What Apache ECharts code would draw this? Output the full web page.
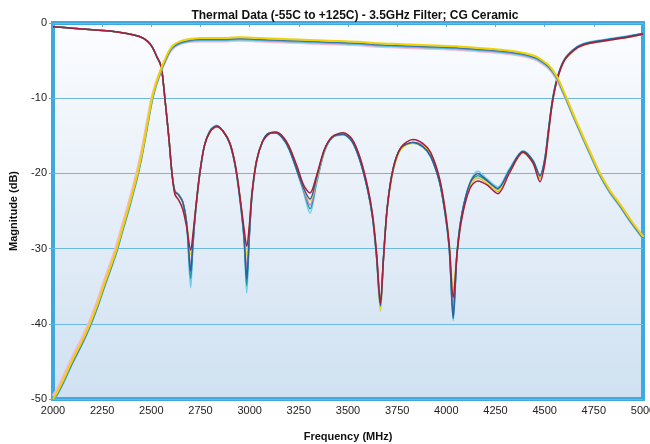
<!DOCTYPE html>
<html>
<head>
<meta charset="utf-8">
<script src="https://cdn.jsdelivr.net/npm/echarts@6/dist/echarts.min.js"></script>
<style>
html,body{margin:0;padding:0;background:#fff;}
#c{width:650px;height:444px;}
</style>
</head>
<body>
<div id="c"></div>
<script>
// ---------- DATA ----------
var titleText = 'Thermal Data (-55C to +125C) - 3.5GHz Filter; CG Ceramic';
var xTicks = [2000, 2250, 2500, 2750, 3000, 3250, 3500, 3750, 4000, 4250, 4500, 4750, 5000];
var yTicks = [0, -10, -20, -30, -40, -50];

// Transmission (S21) frequencies, MHz
var f21 = [2000, 2020, 2050, 2100, 2150, 2188, 2225, 2256, 2290, 2324,
           2350, 2378, 2405, 2429, 2450, 2468, 2485, 2502, 2520, 2540,
           2555, 2570, 2590, 2610, 2640, 2680, 2750, 2850, 2950, 3050,
           3150, 3250, 3350, 3450, 3550, 3650, 3750, 3850, 3950, 4050,
           4150, 4250, 4325, 4375, 4425, 4460, 4490, 4520, 4545, 4570,
           4590, 4613, 4650, 4695, 4740, 4781, 4830, 4883, 4940, 5000];

var s21Yellow = [-50.0, -49.2, -47.6, -44.8, -42.2, -40.0, -37.5, -35.1, -32.6, -30.0,
                 -27.6, -25.1, -22.5, -20.1, -17.6, -15.1, -12.6, -10.2, -8.4, -6.8,
                 -5.7, -4.8, -3.7, -3.0, -2.5, -2.2, -2.0, -2.0, -1.9, -2.0,
                 -2.1, -2.2, -2.3, -2.4, -2.5, -2.7, -2.8, -2.9, -3.0, -3.1,
                 -3.3, -3.5, -3.7, -3.9, -4.2, -4.5, -5.0, -5.6, -6.4, -7.5,
                 -8.7, -10.1, -12.4, -15.1, -17.7, -20.0, -22.2, -24.1, -26.3, -28.4];
var s21Blue   = [-50.0, -49.4, -47.9, -45.1, -42.5, -40.3, -37.8, -35.4, -32.9, -30.3,
                 -27.9, -25.4, -22.8, -20.4, -17.9, -15.4, -12.9, -10.5, -8.6, -7.0,
                 -5.9, -5.0, -3.9, -3.2, -2.7, -2.4, -2.2, -2.2, -2.1, -2.2,
                 -2.3, -2.4, -2.5, -2.6, -2.7, -2.9, -3.0, -3.1, -3.2, -3.3,
                 -3.5, -3.7, -3.9, -4.1, -4.4, -4.7, -5.2, -5.8, -6.6, -7.7,
                 -8.9, -10.3, -12.6, -15.3, -17.9, -20.2, -22.4, -24.3, -26.5, -28.6];
var s21Cyan   = [-50.0, -49.5, -48.0, -45.2, -42.6, -40.4, -37.9, -35.5, -33.0, -30.4,
                 -28.0, -25.5, -22.9, -20.5, -18.0, -15.5, -13.0, -10.6, -8.7, -7.1,
                 -6.0, -5.1, -4.0, -3.3, -2.8, -2.5, -2.3, -2.3, -2.2, -2.3,
                 -2.4, -2.5, -2.6, -2.7, -2.8, -3.0, -3.1, -3.2, -3.3, -3.4,
                 -3.6, -3.8, -4.0, -4.2, -4.5, -4.8, -5.3, -5.9, -6.7, -7.8,
                 -9.0, -10.4, -12.7, -15.4, -18.0, -20.3, -22.5, -24.4, -26.6, -28.7];
var s21Pink   = [-49.6, -48.8, -47.2, -44.4, -41.8, -39.6, -37.1, -34.7, -32.2, -29.6,
                 -27.2, -24.7, -22.1, -19.7, -17.2, -14.8, -12.4, -10.1, -8.4, -6.9,
                 -5.9, -5.1, -4.0, -3.3, -2.8, -2.5, -2.4, -2.4, -2.3, -2.4,
                 -2.5, -2.6, -2.7, -2.8, -2.9, -3.1, -3.2, -3.3, -3.4, -3.5,
                 -3.7, -3.9, -4.1, -4.3, -4.6, -4.9, -5.4, -6.0, -6.8, -7.8,
                 -9.0, -10.3, -12.6, -15.2, -17.8, -20.1, -22.3, -24.2, -26.4, -28.5];

// Reflection (S11) frequencies, MHz
var f11 = [2000, 2100, 2200, 2300, 2375, 2440, 2480, 2505, 2530, 2545,
           2555, 2570, 2590, 2605, 2620, 2640, 2660, 2680, 2700, 2712,
           2725, 2745, 2770, 2800, 2832, 2865, 2900, 2930, 2955, 2972,
           2985, 2998, 3012, 3035, 3065, 3095, 3130, 3165, 3200, 3240,
           3275, 3307, 3340, 3380, 3420, 3475, 3520, 3560, 3600, 3625,
           3645, 3665, 3680, 3700, 3730, 3770, 3830, 3880, 3920, 3965,
           3995, 4015, 4035, 4055, 4080, 4120, 4160, 4205, 4262, 4320,
           4390, 4440, 4476, 4500, 4520, 4540, 4565, 4600, 4650, 4700,
           4775, 4850, 4925, 5000];

var s11Red     = [-0.5, -0.7, -0.9, -1.1, -1.4, -1.8, -2.4, -3.2, -4.6, -5.4,
                  -6.6, -10.3, -15.5, -20.0, -22.8, -23.6, -24.8, -27.2, -30.2, -28.0,
                  -24.8, -20.2, -16.3, -14.4, -13.8, -14.4, -16.0, -19.3, -24.0, -27.5,
                  -29.7, -27.0, -22.5, -18.3, -15.8, -14.8, -14.5, -15.0, -16.4, -19.0,
                  -21.6, -22.6, -20.3, -16.8, -15.1, -14.6, -15.4, -17.8, -21.8, -25.5,
                  -30.5, -37.3, -31.5, -24.5, -19.4, -16.5, -15.5, -16.0, -17.2, -20.6,
                  -25.0, -29.5, -36.5, -30.5, -25.8, -22.0, -21.0, -21.5, -22.7, -20.0,
                  -17.2, -18.6, -21.1, -18.8, -14.5, -10.5, -7.4, -5.0, -3.6, -2.9,
                  -2.5, -2.2, -1.9, -1.5];
var s11Yellow  = [-0.5, -0.7, -0.9, -1.1, -1.4, -1.8, -2.4, -3.2, -4.6, -5.4,
                  -6.6, -10.3, -15.5, -20.0, -22.4, -22.9, -23.8, -26.5, -30.8, -28.3,
                  -24.8, -20.2, -16.3, -14.4, -13.8, -14.4, -16.0, -19.3, -24.0, -27.8,
                  -31.0, -27.3, -22.5, -18.3, -15.8, -14.8, -14.5, -15.0, -16.4, -19.2,
                  -22.0, -23.6, -20.8, -17.0, -15.2, -14.7, -15.5, -17.9, -21.9, -25.6,
                  -30.6, -38.2, -31.6, -24.6, -19.6, -16.8, -16.0, -16.3, -17.4, -20.7,
                  -25.0, -29.3, -35.5, -30.3, -25.6, -21.6, -20.5, -21.2, -22.3, -19.9,
                  -17.3, -18.5, -20.6, -18.6, -14.5, -10.5, -7.4, -5.0, -3.6, -2.9,
                  -2.5, -2.2, -1.9, -1.5];
var s11Magenta = [-0.5, -0.7, -0.9, -1.1, -1.4, -1.8, -2.4, -3.2, -4.6, -5.4,
                  -6.6, -10.3, -15.5, -20.0, -22.4, -22.9, -23.8, -26.6, -32.3, -28.8,
                  -24.9, -20.2, -16.3, -14.4, -13.8, -14.4, -16.0, -19.3, -24.1, -28.2,
                  -32.8, -27.8, -22.6, -18.3, -15.8, -14.8, -14.5, -15.0, -16.4, -19.3,
                  -22.2, -24.2, -21.0, -17.0, -15.2, -14.7, -15.5, -17.9, -21.9, -25.6,
                  -30.6, -37.0, -31.6, -24.6, -19.6, -16.7, -15.9, -16.2, -17.4, -20.8,
                  -25.2, -29.8, -37.2, -30.6, -25.6, -21.6, -20.6, -21.2, -22.4, -19.9,
                  -17.3, -18.5, -20.7, -18.6, -14.5, -10.5, -7.4, -5.0, -3.6, -2.9,
                  -2.5, -2.2, -1.9, -1.5];
var s11Blue    = [-0.5, -0.7, -0.9, -1.1, -1.4, -1.8, -2.4, -3.2, -4.6, -5.4,
                  -6.6, -10.3, -15.5, -20.0, -22.4, -22.9, -23.8, -26.7, -33.0, -29.0,
                  -25.0, -20.3, -16.3, -14.3, -13.7, -14.4, -16.1, -19.5, -24.3, -28.6,
                  -34.0, -28.2, -22.8, -18.4, -15.8, -14.7, -14.6, -15.2, -16.7, -19.5,
                  -22.0, -23.4, -20.6, -16.9, -15.2, -14.8, -15.7, -18.2, -22.2, -25.9,
                  -31.0, -37.6, -31.4, -24.4, -19.3, -16.6, -15.9, -16.4, -17.7, -21.1,
                  -25.5, -30.0, -39.3, -30.4, -25.3, -21.3, -20.0, -20.9, -22.0, -19.6,
                  -17.1, -18.3, -20.3, -18.2, -14.1, -10.2, -7.2, -4.9, -3.5, -2.8,
                  -2.4, -2.1, -1.8, -1.4];
var s11Teal    = [-0.5, -0.7, -0.9, -1.1, -1.4, -1.8, -2.4, -3.2, -4.6, -5.4,
                  -6.6, -10.3, -15.5, -20.0, -22.4, -22.9, -23.9, -26.8, -34.0, -29.3,
                  -25.1, -20.3, -16.3, -14.3, -13.7, -14.4, -16.1, -19.5, -24.4, -28.9,
                  -34.9, -28.5, -22.9, -18.4, -15.8, -14.7, -14.6, -15.2, -16.7, -19.6,
                  -22.3, -24.7, -21.2, -17.1, -15.2, -14.8, -15.7, -18.2, -22.2, -25.9,
                  -31.0, -37.8, -31.4, -24.4, -19.3, -16.6, -15.9, -16.4, -17.7, -21.1,
                  -25.5, -30.0, -38.5, -30.4, -25.3, -21.4, -20.3, -21.0, -22.2, -19.7,
                  -17.1, -18.3, -20.5, -18.3, -14.2, -10.3, -7.3, -4.9, -3.5, -2.8,
                  -2.4, -2.1, -1.8, -1.4];
var s11Cyan    = [-0.5, -0.7, -0.9, -1.1, -1.4, -1.8, -2.4, -3.2, -4.6, -5.4,
                  -6.6, -10.3, -15.5, -20.0, -22.3, -22.8, -23.8, -26.9, -35.2, -29.6,
                  -25.2, -20.4, -16.3, -14.2, -13.6, -14.4, -16.2, -19.6, -24.6, -29.2,
                  -35.9, -28.8, -23.0, -18.5, -15.8, -14.7, -14.6, -15.3, -16.8, -19.7,
                  -22.6, -25.3, -21.4, -17.2, -15.3, -14.9, -15.8, -18.3, -22.3, -26.0,
                  -31.2, -38.3, -31.5, -24.4, -19.3, -16.6, -16.0, -16.5, -17.8, -21.2,
                  -25.7, -30.3, -39.6, -30.4, -25.2, -21.2, -19.7, -20.7, -21.8, -19.4,
                  -17.0, -18.2, -20.2, -18.1, -14.0, -10.1, -7.1, -4.8, -3.4, -2.7,
                  -2.3, -2.0, -1.7, -1.4];

// ---------- CHART ----------
function pairs(xs, ys) { return xs.map(function (x, i) { return [x, ys[i]]; }); }

var s11List = [
  {name: 'S11 cyan', data: s11Cyan, color: '#6ecbec'},
  {name: 'S11 teal', data: s11Teal, color: '#1b9aa9'},
  {name: 'S11 magenta', data: s11Magenta, color: '#d97cbc'},
  {name: 'S11 yellow', data: s11Yellow, color: '#e9e026'},
  {name: 'S11 blue', data: s11Blue, color: '#2c5f9c'},
  {name: 'S11 red', data: s11Red, color: '#a51f3b'}
];
var s21List = [
  {name: 'S21 pink', data: s21Pink, color: '#f3b9cb', w: 3},
  {name: 'S21 cyan', data: s21Cyan, color: '#5cbfe2', w: 2},
  {name: 'S21 blue', data: s21Blue, color: '#3b78b8', w: 1.5},
  {name: 'S21 yellow', data: s21Yellow, color: '#f0d200', w: 2}
];

var series = [];
s11List.forEach(function (s) {
  series.push({name: s.name, type: 'line', data: pairs(f11, s.data), showSymbol: false,
    smooth: 0.3, lineStyle: {color: s.color, width: 1.5}, itemStyle: {color: s.color}});
});
s21List.forEach(function (s) {
  series.push({name: s.name, type: 'line', data: pairs(f21, s.data), showSymbol: false,
    smooth: 0.3, lineStyle: {color: s.color, width: s.w}, itemStyle: {color: s.color}});
});

var chart = echarts.init(document.getElementById('c'));
chart.setOption({
  animation: false,
  backgroundColor: '#ffffff',
  title: {
    text: titleText, left: 350, top: 5, textAlign: 'center',
    textStyle: {fontFamily: 'Liberation Sans', fontSize: 12, fontWeight: 'bold', color: '#111'}
  },
  grid: {
    left: 53, right: 7, top: 23, bottom: 45, show: true,
    outerBoundsMode: 'none', containLabel: false,
    borderColor: '#3fa8dc', borderWidth: 4,
    backgroundColor: {type: 'linear', x: 0, y: 0, x2: 0, y2: 1,
      colorStops: [{offset: 0, color: '#fcfdff'}, {offset: 0.4, color: '#eaf1f9'}, {offset: 1, color: '#cfe1f1'}]}
  },
  xAxis: {
    type: 'value', min: xTicks[0], max: xTicks[xTicks.length - 1], interval: 250,
    name: 'Frequency (MHz)', nameLocation: 'middle', nameGap: 32,
    nameTextStyle: {fontFamily: 'Liberation Sans', fontSize: 11, fontWeight: 'bold', color: '#111'},
    axisLine: {show: false},
    axisTick: {show: true, length: 4, lineStyle: {color: '#5ab0dc'}},
    axisLabel: {fontFamily: 'Liberation Sans', fontSize: 11, color: '#222', margin: 6,
      formatter: function (v) { return String(v); }},
    splitLine: {show: false}
  },
  yAxis: {
    type: 'value', min: yTicks[yTicks.length - 1], max: yTicks[0], interval: 10,
    name: 'Magnitude (dB)', nameLocation: 'middle', nameGap: 34,
    nameTextStyle: {fontFamily: 'Liberation Sans', fontSize: 11, fontWeight: 'bold', color: '#111'},
    axisLine: {show: false},
    axisTick: {show: true, length: 4, lineStyle: {color: '#5ab0dc'}},
    axisLabel: {fontFamily: 'Liberation Sans', fontSize: 11, color: '#222', margin: 6,
      formatter: function (v) { return String(v); }},
    splitLine: {show: true, lineStyle: {color: '#6bb9e2', width: 1.2}}
  },
  series: series
});
</script>
</body>
</html>
